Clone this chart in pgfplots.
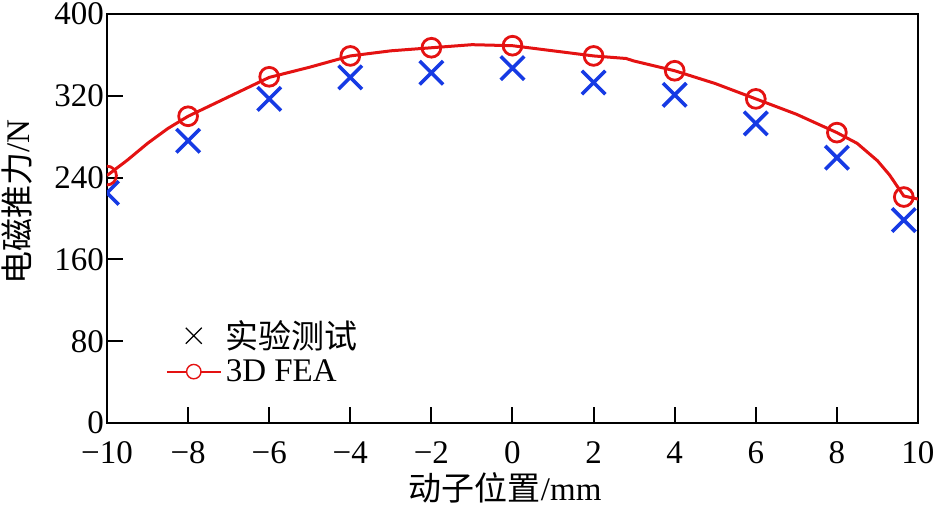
\documentclass[border=0pt]{standalone}
\usepackage{fontspec}
\setmainfont{Liberation Serif}
\newfontfamily\cjk{Noto Sans CJK SC}
\usepackage{pgfplots}
\pgfplotsset{compat=1.18}
\definecolor{myred}{RGB}{228,18,18}
\definecolor{myblue}{RGB}{22,58,228}
\newcommand{\fs}{\fontsize{16.5}{20}\selectfont}
\begin{document}
\begin{tikzpicture}
\begin{axis}[
  scale only axis,
  width=405.5pt, height=204.5pt,
  xmin=-10, xmax=10, ymin=0, ymax=400,
  xtick={-10,-8,...,10},
  xticklabels={−10,−8,−6,−4,−2,0,2,4,6,8,10},
  ytick={0,80,...,400},
  tick align=inside,
  xtick pos=left, ytick pos=left,
  major tick length=8pt,
  axis line style={line width=1pt},
  every tick/.style={line width=1pt, black},
  /pgf/number format/assume math mode=true,
  tick label style={font=\fs},
  xticklabel style={anchor=base, yshift=-20pt},
  yticklabel style={xshift=2pt},
  every axis y label/.style={at={(rel axis cs:0,0.54)}, xshift=-45pt, rotate=90, anchor=center, font=\fs},
  every axis x label/.style={at={(rel axis cs:0.491,0)}, yshift=-32.5pt, anchor=center, font=\fs},
  xlabel={{\cjk 动子位置}/mm},
  ylabel={{\cjk 电磁推力}/N},
  clip marker paths=true,
  legend style={at={(rel axis cs:0.072,0.262)}, anchor=north west, draw=none, fill=none, font=\fs, row sep=0pt, inner sep=0pt},
  legend cell align=left,
]
\addlegendimage{legend image code/.code={
  \draw[black, line width=0.6pt] (9.5pt,-4pt) -- (17.5pt,4pt) (9.5pt,4pt) -- (17.5pt,-4pt);
}}
\addlegendentry{\cjk 实验测试}
\addplot[only marks, mark=x, myblue, mark size=8.3pt, mark options={line width=1.8pt}, forget plot] coordinates {
(-10,225) (-8,276) (-6,317) (-4,338) (-2,342.6) (0,347) (2,333) (4,321) (6,293) (8,259.5) (9.65,198.5)
};
\addplot[myred, line width=1.5pt, forget plot] coordinates {
(-10,242) (-9.5,257) (-9,273.5) (-8.5,288) (-8,300) (-7,319) (-6,338) (-5,348) (-4,359) (-3,364) (-2,367) (-1,370) (0,369) (1,364) (2,359) (2.8,356.5) (3,354) (4,344.5) (5,332) (6,317) (7,302) (8,284) (8.5,273.5) (9,256.5) (9.3,242.5) (9.65,222) (10,219)
};
\addplot[only marks, mark=o, myred, mark size=4.7pt, mark options={line width=1.4pt}, forget plot] coordinates {
(-10,242) (-8,300) (-6,338.6) (-4,359) (-2,367) (0,369) (2,359) (4,344.5) (6,317) (8,284) (9.65,221)
};
\addlegendimage{legend image code/.code={
  \draw[myred, line width=1pt] (0pt,0pt) -- (27pt,0pt);
  \draw[myred, line width=0.7pt, fill=white] (13.5pt,0pt) circle (3.6pt);
}}
\addlegendentry{3D FEA}
\end{axis}
\pgfresetboundingbox
\path[use as bounding box] (-53.5pt,-41pt) rectangle (416pt,211.5pt);
\end{tikzpicture}
\end{document}
